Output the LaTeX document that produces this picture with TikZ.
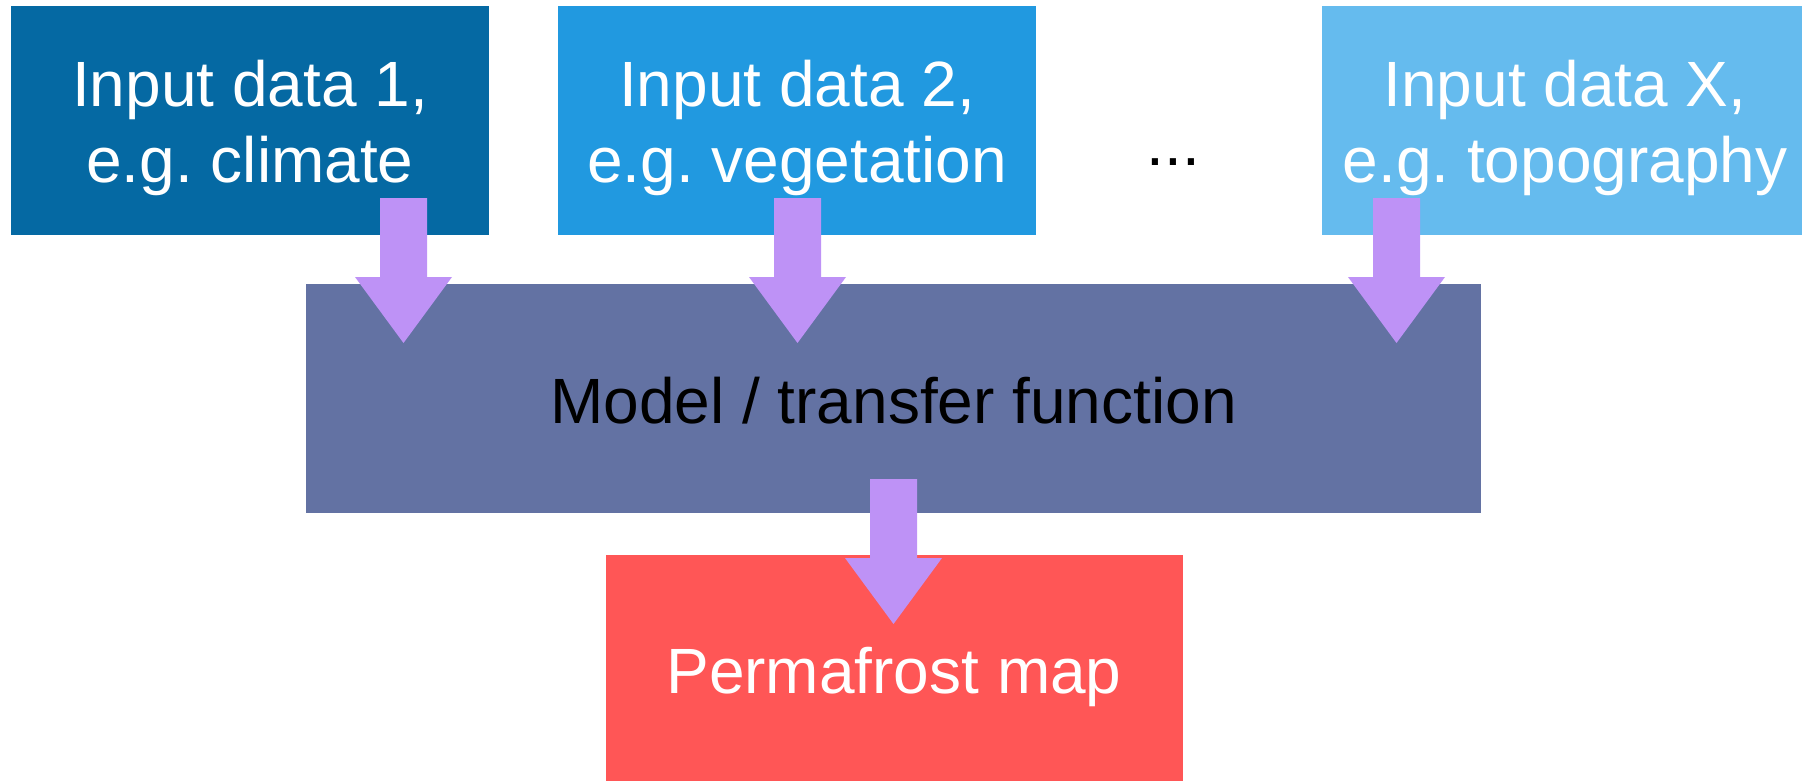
\documentclass[tikz,border=0pt]{standalone}
\usepackage{fontspec}
\setmainfont{Liberation Sans}
\usetikzlibrary{calc}
\frenchspacing
\definecolor{cinA}{HTML}{0569A3}
\definecolor{cinB}{HTML}{2199E0}
\definecolor{cinC}{HTML}{65BBEE}
\definecolor{cmodel}{HTML}{6372A3}
\definecolor{cmap}{HTML}{FF5656}
\definecolor{carrow}{HTML}{BE92F6}
\tikzset{
  boxnode/.style={rectangle, inner sep=0pt, outer sep=0pt, draw=none, anchor=north west},
  txt/.style={inner sep=0pt, outer sep=0pt, anchor=base, font=\fontsize{64pt}{76pt}\selectfont},
  whitetxt/.style={txt, text=white},
  blacktxt/.style={txt, text=black},
  fatarrowfill/.style={fill=carrow, draw=none}
}
% fat block arrow from start coordinate #1 to tip coordinate #2 (vertical, downward)
\newcommand{\fatarrow}[2]{%
  \fill[fatarrowfill] let \p1=(#1), \p2=(#2) in
    (\x1-23.5pt,\y1) -- (\x1+23.5pt,\y1) -- (\x1+23.5pt,\y2+66pt) --
    (\x1+48.5pt,\y2+66pt) -- (\x2,\y2) -- (\x1-48.5pt,\y2+66pt) --
    (\x1-23.5pt,\y2+66pt) -- cycle;}
\begin{document}
\begin{tikzpicture}[x=1pt,y=-1pt]
\useasboundingbox (0,0) rectangle (1802,781);
% boxes
\node[boxnode, fill=cinA, minimum width=478pt, minimum height=229pt] (inA) at (11,6) {};
\node[boxnode, fill=cinB, minimum width=478pt, minimum height=229pt] (inB) at (558,6) {};
\node[boxnode, fill=cinC, minimum width=480pt, minimum height=229pt] (inC) at (1322,6) {};
\node[boxnode, fill=cmodel, minimum width=1175pt, minimum height=228.7pt] (model) at (306,284) {};
\node[boxnode, fill=cmap, minimum width=577pt, minimum height=226pt] (map) at (605.5,555) {};
% texts
\node[whitetxt] (tA1) at (250,106.7) {Input data 1,};
\node[whitetxt] (tA2) at (250,182.7) {e.g. climate};
\node[whitetxt] (tB1) at (797,106.7) {Input data 2,};
\node[whitetxt] (tB2) at (797,182.7) {e.g. vegetation};
\node[whitetxt] (tC1) at (1565,106.7) {Input data X,};
\node[whitetxt] (tC2) at (1565,182.7) {e.g. topography};
\node[blacktxt] (dots) at (1173.5,165.7) {...};
\node[blacktxt] (tmodel) at (893.5,423.3) {Model / transfer function};
\node[whitetxt] (tmap) at (894,693.3) {Permafrost map};
% arrows
\coordinate (a1s) at (403.5,198);  \coordinate (a1t) at (403.5,343);
\coordinate (a2s) at (797.5,198);  \coordinate (a2t) at (797.5,343);
\coordinate (a3s) at (1396.5,198); \coordinate (a3t) at (1396.5,343);
\coordinate (a4s) at (893.5,479);  \coordinate (a4t) at (893.5,624);
\fatarrow{a1s}{a1t}
\fatarrow{a2s}{a2t}
\fatarrow{a3s}{a3t}
\fatarrow{a4s}{a4t}
\end{tikzpicture}
\end{document}
